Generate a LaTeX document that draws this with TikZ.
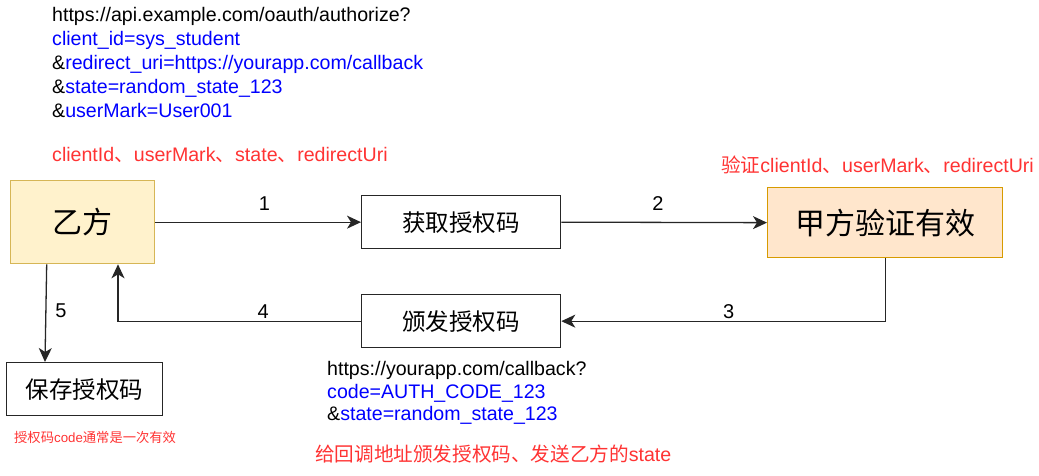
\documentclass[tikz,border=0pt]{standalone}
\usepackage{fontspec}
\setmainfont{Liberation Sans}
\newfontfamily\cjk{Noto Sans CJK SC}
\usetikzlibrary{arrows.meta,calc}
\definecolor{linkblue}{HTML}{0000FF}
\definecolor{notered}{HTML}{FF3333}
\definecolor{yfill}{HTML}{FFF2CC}
\definecolor{ystroke}{HTML}{D6B656}
\definecolor{ofill}{HTML}{FFE6CC}
\definecolor{ostroke}{HTML}{D79B00}
\tikzset{
  boxbase/.style={draw, line width=1.3pt, inner sep=0pt, anchor=north west},
  plainbox/.style={boxbase, draw=black!85, fill=white},
  bigtxt/.style={font=\cjk\fontsize{30}{32}\selectfont, inner sep=0pt},
  smalltxt/.style={font=\cjk\fontsize{23.5}{26}\selectfont, inner sep=0pt},
  arr/.style={line width=1.3pt, draw=black!85, -{Stealth[length=14pt,width=13pt,inset=4pt]}},
  num/.style={font=\fontsize{20}{22}\selectfont, inner sep=0pt, anchor=center},
  line/.style={inner sep=0pt, anchor=base west, font=\fontsize{19.6}{24}\selectfont},
}
\begin{document}
\begin{tikzpicture}[x=1pt,y=-1pt]
\useasboundingbox (0,0) rectangle (1039,475);
% boxes
\node[boxbase, draw=ystroke, fill=yfill, minimum width=144pt, minimum height=83pt] (yi) at (10,180) {};
\node[bigtxt] at (yi.center) {乙方};
\node[plainbox, minimum width=199pt, minimum height=53pt] (get) at (361,195) {};
\node[smalltxt] at (get.center) {获取授权码};
\node[boxbase, draw=ostroke, fill=ofill, minimum width=235pt, minimum height=70pt] (jia) at (767,187) {};
\node[bigtxt] at (jia.center) {甲方验证有效};
\node[plainbox, minimum width=199pt, minimum height=53pt] (issue) at (361,294) {};
\node[smalltxt] at (issue.center) {颁发授权码};
\node[plainbox, minimum width=156pt, minimum height=53pt] (save) at (6,362) {};
\node[smalltxt] at (save.center) {保存授权码};
% coordinates
\coordinate (c3) at (jia.south |- issue.east);
\coordinate (c4) at (118,0 |- issue.east);
\coordinate (s5) at ($(yi.south west)+(36.7,0)$);
\coordinate (t5) at ($(save.north west)+(39,0)$);
% connectors
\draw[arr] (yi.east) -- (get.west) node[num, pos=0.53, yshift=18.5pt] {1};
\draw[arr] (get.east) -- (jia.west) node[num, pos=0.47, yshift=18.5pt] {2};
\draw[arr] (jia.south) -- (c3) -- (issue.east) node[num, pos=0.483, yshift=10pt] {3};
\draw[arr] (issue.west) -- (c4) node[num, pos=0.403, yshift=10pt] {4} -- (c4 |- yi.south);
\draw[arr] (s5) -- (t5) node[num, pos=0.48, xshift=15pt] {5};
% texts
\node[line] (q1) at (52,21.5) {https://api.example.com/oauth/authorize?};
\node[line, text=linkblue] (q2) at (52,45.5) {client\_id=sys\_student};
\node[line] (q3) at (52,69.5) {\&\textcolor{linkblue}{redirect\_uri=https://yourapp.com/callback}};
\node[line] (q4) at (52,93.5) {\&\textcolor{linkblue}{state=random\_state\_123}};
\node[line] (q5) at (52,117.5) {\&\textcolor{linkblue}{userMark=User001}};
\node[line, text=notered] (r1) at (52,161) {clientId{\cjk 、}userMark{\cjk 、}state{\cjk 、}redirectUri};
\node[line, text=notered, anchor=base east] (r2) at (1034,172) {{\cjk 验证}clientId{\cjk 、}userMark{\cjk 、}redirectUri};
\node[line] (b1) at (327,375) {https://yourapp.com/callback?};
\node[line, text=linkblue] (b2) at (327,398) {code=AUTH\_CODE\_123};
\node[line] (b3) at (327,420.5) {\&\textcolor{linkblue}{state=random\_state\_123}};
\node[line, text=notered, font=\fontsize{13.3}{15}\selectfont] (n1) at (14,442) {{\cjk 授权码}code{\cjk 通常是一次有效}};
\node[line, text=notered] (n2) at (315,461) {{\cjk 给回调地址颁发授权码、发送乙方的}state};
\end{tikzpicture}
\end{document}
